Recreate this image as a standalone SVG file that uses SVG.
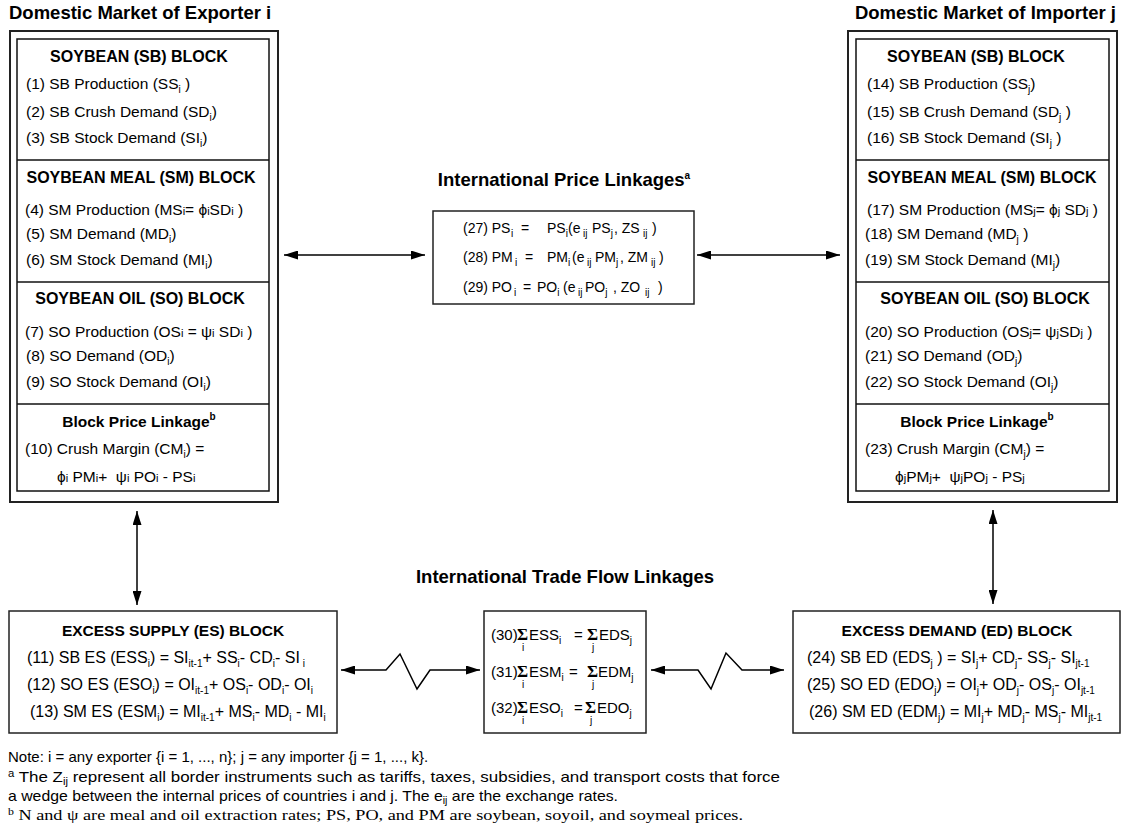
<svg xmlns="http://www.w3.org/2000/svg" width="1122" height="832" viewBox="0 0 1122 832">
<style>
text{font-family:"Liberation Sans",Arial,sans-serif;fill:#000}
.h{font-size:18.5px;font-weight:bold}
.bt{font-size:16px;font-weight:bold}
.bp{font-size:15.5px;font-weight:bold}
.t{font-size:15.5px}
.m{font-size:14px}
.e{font-size:16px}
.f{font-size:15px}
.s{font-size:10px}
.s2{font-size:11px}
.sup{font-size:10px}
.sig{font-family:"Liberation Serif","Times New Roman",serif;font-weight:bold;font-size:17px}
.n{font-size:15px}
.n2{font-size:15px}
.nt{font-family:"Liberation Serif","Times New Roman",serif;font-size:15.5px}
.outer{fill:#fff;stroke:#222;stroke-width:2}
.inner{fill:none;stroke:#111;stroke-width:1.5}
.box{fill:#fff;stroke:#222;stroke-width:1.5}
.div{stroke:#111;stroke-width:1.5}
.c{fill:none;stroke:#000;stroke-width:1.5;marker-start:url(#ah);marker-end:url(#ah)}
</style>
<defs>
<marker id="ah" viewBox="0 0 14 9" refX="14" refY="4.5" markerWidth="14" markerHeight="9" markerUnits="userSpaceOnUse" orient="auto-start-reverse">
<path d="M0,0 L14,4.5 L0,9 z" fill="#000"/>
</marker>
</defs>
<rect width="1122" height="832" fill="#fff"/>

<g id="titles">
<text class="h" x="9" y="19">Domestic Market of Exporter i</text>
<text class="h" x="1116" y="19" text-anchor="end">Domestic Market of Importer j</text>
<text class="h" x="564" y="186" text-anchor="middle">International Price Linkages<tspan class="sup" dy="-7">a</tspan></text>
<text class="h" x="565" y="583" text-anchor="middle">International Trade Flow Linkages</text>
</g>

<g id="exporter">
<rect class="outer" x="10" y="31" width="268" height="471"/>
<rect class="inner" x="17" y="39" width="252" height="452"/>
<line class="div" x1="17" y1="160" x2="269" y2="160"/>
<line class="div" x1="17" y1="282" x2="269" y2="282"/>
<line class="div" x1="17" y1="404" x2="269" y2="404"/>
<text class="bt" x="139" y="62" text-anchor="middle">SOYBEAN (SB) BLOCK</text>
<text class="t" x="26" y="89">(1) SB Production (SS<tspan class="s" dy="4">i</tspan><tspan dy="-4"> )</tspan></text>
<text class="t" x="26" y="117">(2) SB Crush Demand (SD<tspan class="s" dy="4">i</tspan><tspan dy="-4">)</tspan></text>
<text class="t" x="26" y="143">(3) SB Stock Demand (SI<tspan class="s" dy="4">i</tspan><tspan dy="-4">)</tspan></text>
<text class="bt" x="141" y="183" text-anchor="middle">SOYBEAN MEAL (SM) BLOCK</text>
<text class="t" x="25" y="215">(4) SM Production (MS<tspan class="s2">i</tspan>= ϕ<tspan class="s2">i</tspan>SD<tspan class="s2">i</tspan> )</text>
<text class="t" x="26" y="239">(5) SM Demand (MD<tspan class="s" dy="4">i</tspan><tspan dy="-4">)</tspan></text>
<text class="t" x="26" y="265">(6) SM Stock Demand (MI<tspan class="s" dy="4">i</tspan><tspan dy="-4">)</tspan></text>
<text class="bt" x="140" y="304" text-anchor="middle">SOYBEAN OIL (SO) BLOCK</text>
<text class="t" x="25" y="337">(7) SO Production (OS<tspan class="s2">i</tspan> = ψ<tspan class="s2">i</tspan> SD<tspan class="s2">i</tspan> )</text>
<text class="t" x="26" y="361">(8) SO Demand (OD<tspan class="s" dy="4">i</tspan><tspan dy="-4">)</tspan></text>
<text class="t" x="26" y="387">(9) SO Stock Demand (OI<tspan class="s" dy="4">i</tspan><tspan dy="-4">)</tspan></text>
<text class="bp" x="139" y="427" text-anchor="middle">Block Price Linkage<tspan class="sup" dy="-7">b</tspan></text>
<text class="t" x="25" y="454">(10) Crush Margin (CM<tspan class="s" dy="4">i</tspan><tspan dy="-4">) =</tspan></text>
<text class="t" x="57" y="482">ϕ<tspan class="s2">i</tspan> PM<tspan class="s2">i</tspan>+&#160;&#160;ψ<tspan class="s2">i</tspan> PO<tspan class="s2">i</tspan> - PS<tspan class="s2">i</tspan></text>
</g>

<g id="importer">
<rect class="outer" x="848" y="31" width="269" height="471"/>
<rect class="inner" x="856" y="39" width="253" height="452"/>
<line class="div" x1="856" y1="160" x2="1109" y2="160"/>
<line class="div" x1="856" y1="282" x2="1109" y2="282"/>
<line class="div" x1="856" y1="404" x2="1109" y2="404"/>
<text class="bt" x="976" y="62" text-anchor="middle">SOYBEAN (SB) BLOCK</text>
<text class="t" x="867" y="89">(14) SB Production (SS<tspan class="s" dy="4">j</tspan><tspan dy="-4">)</tspan></text>
<text class="t" x="867" y="117">(15) SB Crush Demand (SD<tspan class="s" dy="4">j</tspan><tspan dy="-4"> )</tspan></text>
<text class="t" x="867" y="143">(16) SB Stock Demand (SI<tspan class="s" dy="4">j</tspan><tspan dy="-4"> )</tspan></text>
<text class="bt" x="982" y="183" text-anchor="middle">SOYBEAN MEAL (SM) BLOCK</text>
<text class="t" x="867" y="215">(17) SM Production (MS<tspan class="s2">j</tspan>= ϕ<tspan class="s2">j</tspan> SD<tspan class="s2">j</tspan> )</text>
<text class="t" x="865" y="239">(18) SM Demand (MD<tspan class="s" dy="4">j</tspan><tspan dy="-4"> )</tspan></text>
<text class="t" x="865" y="265">(19) SM Stock Demand (MI<tspan class="s" dy="4">j</tspan><tspan dy="-4">)</tspan></text>
<text class="bt" x="985" y="304" text-anchor="middle">SOYBEAN OIL (SO) BLOCK</text>
<text class="t" x="865" y="337">(20) SO Production (OS<tspan class="s2">j</tspan>= ψ<tspan class="s2">j</tspan>SD<tspan class="s2">j</tspan> )</text>
<text class="t" x="865" y="361">(21) SO Demand (OD<tspan class="s" dy="4">j</tspan><tspan dy="-4">)</tspan></text>
<text class="t" x="865" y="387">(22) SO Stock Demand (OI<tspan class="s" dy="4">j</tspan><tspan dy="-4">)</tspan></text>
<text class="bp" x="977" y="427" text-anchor="middle">Block Price Linkage<tspan class="sup" dy="-7">b</tspan></text>
<text class="t" x="865" y="454">(23) Crush Margin (CM<tspan class="s" dy="4">j</tspan><tspan dy="-4">) =</tspan></text>
<text class="t" x="895" y="482">ϕ<tspan class="s2">j</tspan>PM<tspan class="s2">j</tspan>+&#160;&#160;ψ<tspan class="s2">j</tspan>PO<tspan class="s2">j</tspan> - PS<tspan class="s2">j</tspan></text>
</g>

<g id="price-linkages">
<rect class="box" x="433" y="211" width="261" height="93"/>
<text class="m" y="233"><tspan x="463">(27) PS</tspan><tspan class="s" x="511" dy="4">i</tspan><tspan x="521" dy="-4">=</tspan><tspan x="547">PS</tspan><tspan class="s" dy="4">i</tspan><tspan x="568" dy="-4">(e</tspan><tspan class="s" x="583" dy="4">ij</tspan><tspan x="592" dy="-4">PS</tspan><tspan class="s" dy="4">j</tspan><tspan x="614" dy="-4">, ZS</tspan><tspan class="s" x="643" dy="4">ij</tspan><tspan x="652" dy="-4">)</tspan></text>
<text class="m" y="262"><tspan x="463">(28) PM</tspan><tspan class="s" x="515" dy="4">i</tspan><tspan x="525" dy="-4">=</tspan><tspan x="547">PM</tspan><tspan class="s" dy="4">i</tspan><tspan x="572" dy="-4">(e</tspan><tspan class="s" x="587" dy="4">ij</tspan><tspan x="595" dy="-4">PM</tspan><tspan class="s" dy="4">j</tspan><tspan x="620" dy="-4">, ZM</tspan><tspan class="s" x="651" dy="4">ij</tspan><tspan x="659" dy="-4">)</tspan></text>
<text class="m" y="292"><tspan x="463">(29) PO</tspan><tspan class="s" x="514" dy="4">i</tspan><tspan x="523" dy="-4">=</tspan><tspan x="537">PO</tspan><tspan class="s" dy="4">i</tspan><tspan x="563" dy="-4">(e</tspan><tspan class="s" x="578" dy="4">ij</tspan><tspan x="585" dy="-4">PO</tspan><tspan class="s" dy="4">j</tspan><tspan x="613" dy="-4">, ZO</tspan><tspan class="s" x="645" dy="4">ij</tspan><tspan x="658" dy="-4">)</tspan></text>
</g>

<g id="excess-supply">
<rect class="box" x="9" y="611" width="328" height="122"/>
<text class="bp" x="173" y="636" text-anchor="middle">EXCESS SUPPLY (ES) BLOCK</text>
<text class="e" x="27" y="663">(11) SB ES (ESS<tspan class="s" dy="4">i</tspan><tspan dy="-4">)  = SI</tspan><tspan class="s" dy="4">it-1</tspan><tspan dy="-4">+ SS</tspan><tspan class="s" dy="4">i</tspan><tspan dy="-4">- CD</tspan><tspan class="s" dy="4">i</tspan><tspan dy="-4">- SI</tspan><tspan class="s" dx="3" dy="4">i</tspan></text>
<text class="e" x="27" y="690">(12) SO ES (ESO<tspan class="s" dy="4">i</tspan><tspan dy="-4">) = OI</tspan><tspan class="s" dy="4">it-1</tspan><tspan dy="-4">+ OS</tspan><tspan class="s" dy="4">i</tspan><tspan dy="-4">- OD</tspan><tspan class="s" dy="4">i</tspan><tspan dy="-4">- OI</tspan><tspan class="s" dy="4">i</tspan></text>
<text class="e" x="30" y="717">(13) SM ES (ESM<tspan class="s" dy="4">i</tspan><tspan dy="-4">) = MI</tspan><tspan class="s" dy="4">it-1</tspan><tspan dy="-4">+ MS</tspan><tspan class="s" dy="4">i</tspan><tspan dy="-4">- MD</tspan><tspan class="s" dy="4">i</tspan><tspan dy="-4"> - MI</tspan><tspan class="s" dy="4">i</tspan></text>
</g>

<g id="trade-flow">
<rect class="box" x="484" y="611" width="162" height="122"/>
<text class="f" x="491" y="640">(30)</text><text class="sig" x="517" y="640">Σ</text><text class="s" x="522" y="651">i</text>
<text class="f" x="529" y="640">ESS<tspan class="s" dy="4">i</tspan><tspan x="574" dy="-4">=</tspan></text><text class="sig" x="587" y="640">Σ</text><text class="s" x="592" y="651">j</text>
<text class="f" x="599" y="640">EDS<tspan class="s" dy="4">j</tspan></text>
<text class="f" x="491" y="677">(31)</text><text class="sig" x="517" y="677">Σ</text><text class="s" x="522" y="688">i</text>
<text class="f" x="529" y="677">ESM<tspan class="s" dy="4">i</tspan><tspan x="569" dy="-4">=</tspan></text><text class="sig" x="587" y="677">Σ</text><text class="s" x="592" y="688">j</text>
<text class="f" x="598" y="677">EDM<tspan class="s" dy="4">j</tspan></text>
<text class="f" x="491" y="713">(32)</text><text class="sig" x="517" y="713">Σ</text><text class="s" x="522" y="724">i</text>
<text class="f" x="529" y="713">ESO<tspan class="s" dy="4">i</tspan><tspan x="574" dy="-4">=</tspan></text><text class="sig" x="585" y="713">Σ</text><text class="s" x="590" y="724">j</text>
<text class="f" x="597" y="713">EDO<tspan class="s" dy="4">j</tspan></text>
</g>

<g id="excess-demand">
<rect class="box" x="793" y="611" width="327" height="122"/>
<text class="bp" x="957" y="636" text-anchor="middle">EXCESS DEMAND (ED) BLOCK</text>
<text class="e" x="807" y="663">(24) SB ED (EDS<tspan class="s" dy="4">j</tspan><tspan dy="-4"> )  = SI</tspan><tspan class="s" dy="4">j</tspan><tspan dy="-4">+ CD</tspan><tspan class="s" dy="4">j</tspan><tspan dy="-4">- SS</tspan><tspan class="s" dy="4">j</tspan><tspan dy="-4">- SI</tspan><tspan class="s" dy="4">jt-1</tspan></text>
<text class="e" x="807" y="690">(25) SO ED (EDO<tspan class="s" dy="4">j</tspan><tspan dy="-4">) = OI</tspan><tspan class="s" dy="4">j</tspan><tspan dy="-4">+ OD</tspan><tspan class="s" dy="4">j</tspan><tspan dy="-4">- OS</tspan><tspan class="s" dy="4">j</tspan><tspan dy="-4">- OI</tspan><tspan class="s" dy="4">jt-1</tspan></text>
<text class="e" x="809" y="717">(26) SM ED (EDM<tspan class="s" dy="4">j</tspan><tspan dy="-4">) = MI</tspan><tspan class="s" dy="4">j</tspan><tspan dy="-4">+ MD</tspan><tspan class="s" dy="4">j</tspan><tspan dy="-4">- MS</tspan><tspan class="s" dy="4">j</tspan><tspan dy="-4">- MI</tspan><tspan class="s" dy="4">jt-1</tspan></text>
</g>

<g id="connectors">
<path class="c" d="M284,255 L425,255"/>
<path class="c" d="M697,255 L840,255"/>
<path class="c" d="M137,511 L137,605"/>
<path class="c" d="M993,510 L993,604"/>
<path class="c" d="M341,670 L386,670 L400,654 L417,689 L430,670 L480,670"/>
<path class="c" d="M651,670 L698,670 L711,689 L726,653 L742,670 L784,670"/>
</g>

<g id="notes">
<text class="n" x="8" y="762">Note: i = any exporter {i = 1, ..., n}; j = any importer {j = 1, ..., k}.</text>
<text class="n2" x="8" y="782" textLength="772" lengthAdjust="spacingAndGlyphs"><tspan class="sup" dy="-5">a</tspan><tspan dy="5"> The Z</tspan><tspan class="s" dy="3">ij</tspan><tspan dy="-3"> represent all border instruments such as tariffs, taxes, subsidies, and transport costs that force</tspan></text>
<text class="n2" x="8" y="801" textLength="610" lengthAdjust="spacingAndGlyphs">a wedge between the internal prices of countries i and j. The e<tspan class="s" dy="3">ij</tspan><tspan dy="-3"> are the exchange rates.</tspan></text>
<text class="nt" x="8" y="820" textLength="735" lengthAdjust="spacingAndGlyphs"><tspan class="sup" dy="-5">b</tspan><tspan dy="5"> N and ψ are meal and oil extraction rates; PS, PO, and PM are soybean, soyoil, and soymeal prices.</tspan></text>
</g>
</svg>
